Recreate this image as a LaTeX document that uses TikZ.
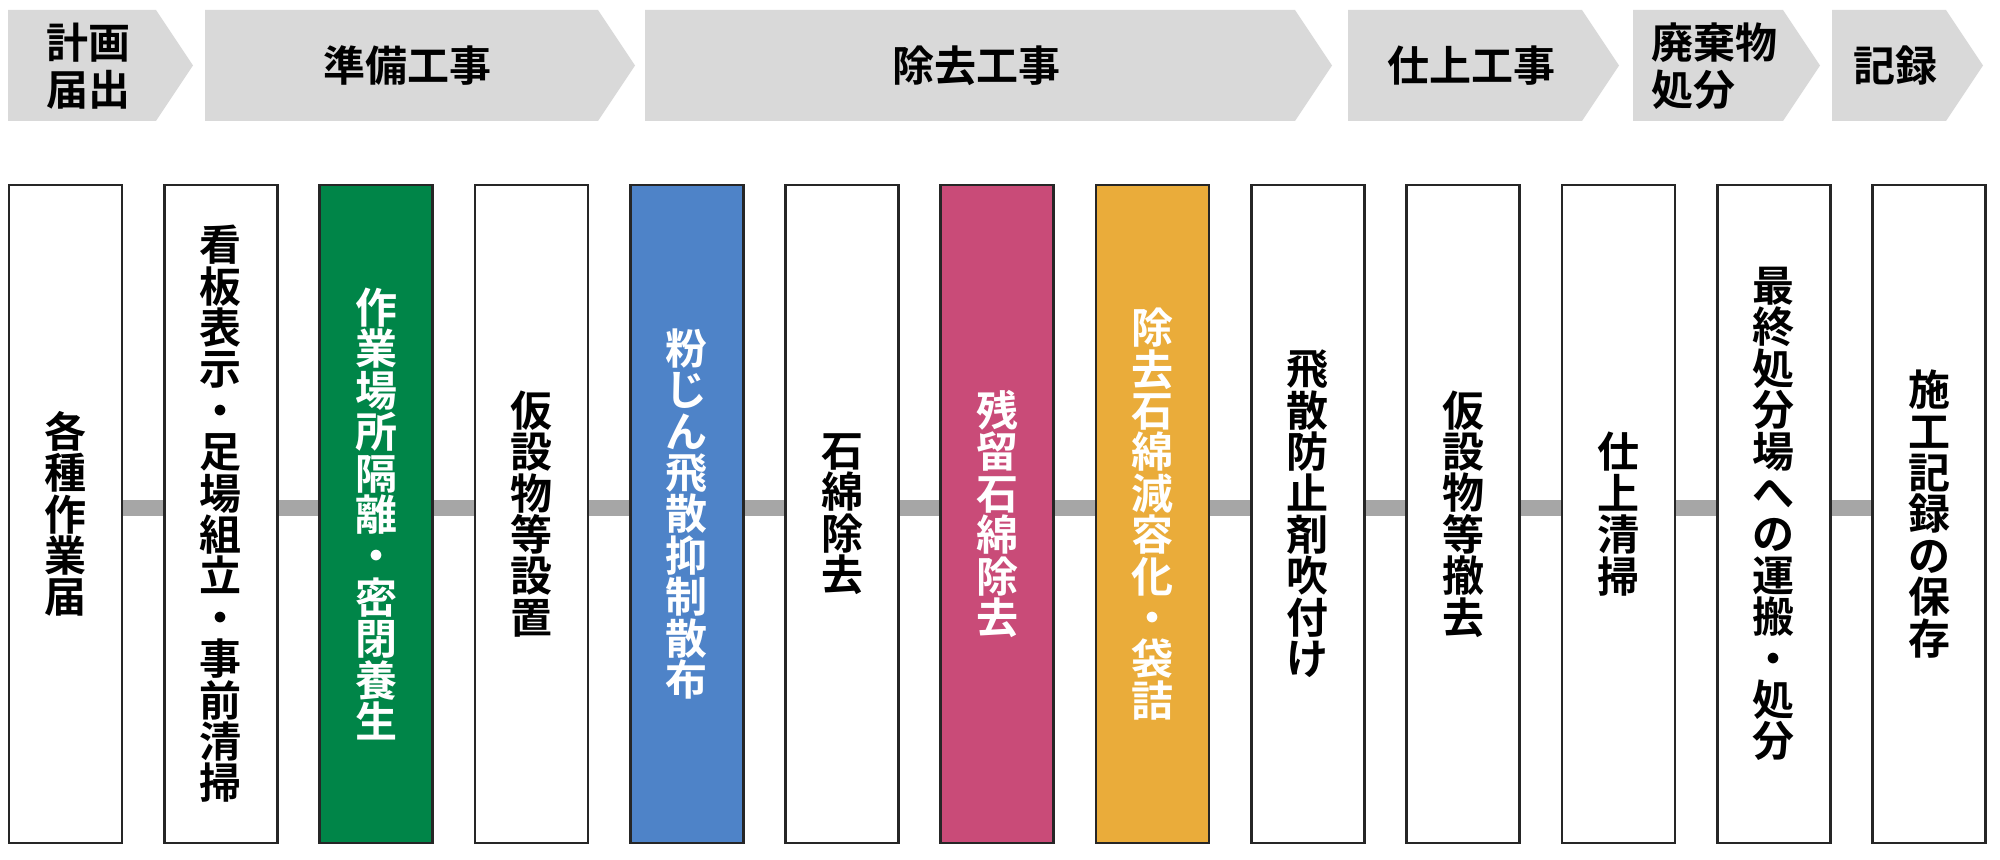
\documentclass[tikz,border=0pt]{standalone}
\usepackage{fontspec}
\setmainfont{Noto Sans CJK JP}[BoldFont={* Bold}]
\usetikzlibrary{backgrounds}

\definecolor{phasegray}{HTML}{D9D9D9}
\definecolor{linkgray}{HTML}{A6A6A6}
\definecolor{framegray}{HTML}{262626}
\definecolor{sealgreen}{HTML}{008548}
\definecolor{sprayblue}{HTML}{4E83C8}
\definecolor{residuepink}{HTML}{C94B78}
\definecolor{bagorange}{HTML}{EAAC3A}

% one character per line (vertical writing)
\newcommand{\tate}[1]{\vbox{\baselineskip=20.7pt\lineskiplimit=-30pt\expandafter\tateloop#1\relax}}
\def\tateloop#1{\ifx\relax#1\else\hbox to 21pt{\hss#1\hss}\expandafter\tateloop\fi}

\begin{document}
\begin{tikzpicture}[x=0.5pt,y=-0.5pt,
    phase/.style={fill=phasegray},
    phaselabel/.style={align=left,inner sep=0pt,font=\bfseries\fontsize{21pt}{23.5pt}\selectfont},
    task/.style={draw=framegray,line width=1.35pt,minimum width=56.5pt,minimum height=329pt,inner sep=0pt,font=\bfseries\fontsize{21pt}{20.7pt}\selectfont},
    link/.style={linkgray,line width=8pt}]
    \useasboundingbox (0,0) rectangle (2000,860);

    % Phase arrows along the top
    \foreach \xa/\xb/\lab [count=\i] in {8/156/{計画\\届出}, 205/598/準備工事, 645/1295/除去工事, 1348/1582/仕上工事, 1633/1783/{廃棄物\\処分}, 1832/1946/記録}{
        \fill[phase] (\xa,10) -- (\xb,10) -- (\xb+37,65.5) -- (\xb,121) -- (\xa,121) -- cycle;
        \node[phaselabel] (p\i) at ({(\xa+\xb)/2+6},66) {\lab};
    }

    % Work steps
    \foreach \lab/\col/\txt [count=\i] in {
        各種作業届/white/black,
        看板表示・足場組立・事前清掃/white/black,
        作業場所隔離・密閉養生/sealgreen/white,
        仮設物等設置/white/black,
        粉じん飛散抑制散布/sprayblue/white,
        石綿除去/white/black,
        残留石綿除去/residuepink/white,
        除去石綿減容化・袋詰/bagorange/white,
        飛散防止剤吹付け/white/black,
        仮設物等撤去/white/black,
        仕上清掃/white/black,
        最終処分場への運搬・処分/white/black,
        施工記録の保存/white/black}
        \node[task,fill=\col,text=\txt] (t\i) at ({65.5+155.3*(\i-1)},514) {\tate{\lab}};

    % Connect the steps
    \begin{scope}[on background layer]
        \foreach \i [evaluate=\i as \j using int(\i+1)] in {1,...,12}
            \draw[link] ([yshift=3pt]t\i.east) -- ([yshift=3pt]t\j.west);
    \end{scope}
\end{tikzpicture}
\end{document}
